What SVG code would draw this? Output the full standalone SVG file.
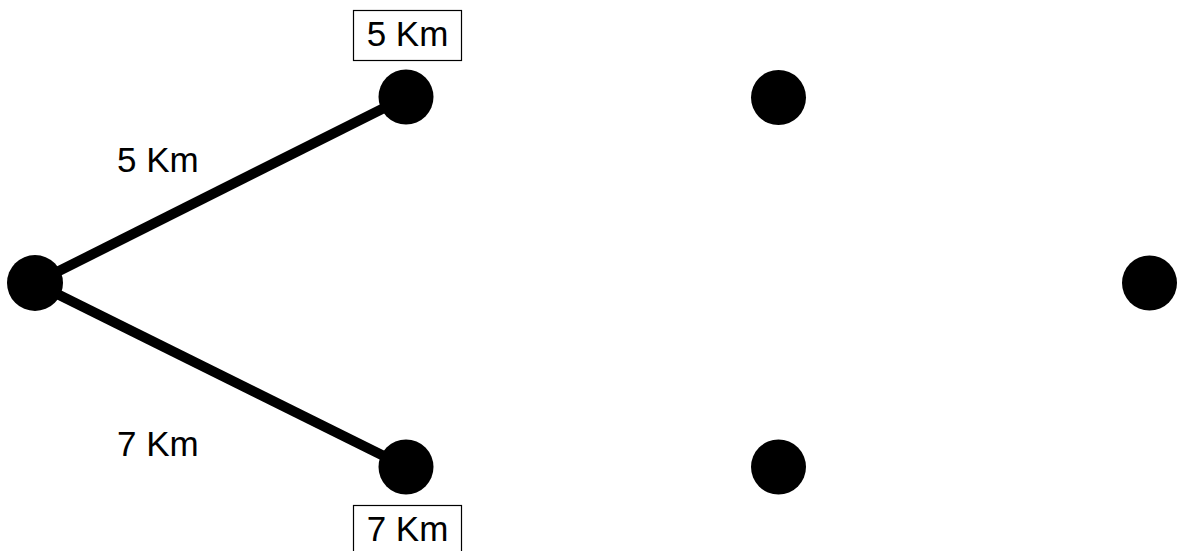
<svg xmlns="http://www.w3.org/2000/svg" width="1177" height="551" viewBox="0 0 1177 551">
  <style>
    .node { fill: #000; }
    .edge { stroke: #000; stroke-width: 10; fill: none; }
    .label { font-family: "Liberation Sans", Arial, sans-serif; font-size: 35px; fill: #000; }
    .tag { fill: #fff; stroke: #000; stroke-width: 1.2; }
  </style>
  <rect width="1177" height="551" fill="#fff"/>

  <!-- connectors -->
  <g id="edges">
    <line class="edge" x1="35" y1="283" x2="406" y2="97"/>
    <line class="edge" x1="35" y1="283" x2="406" y2="467"/>
    <text class="label" x="117" y="172">5 Km</text>
    <text class="label" x="117" y="456">7 Km</text>
  </g>

  <g id="node-start"><circle class="node" cx="35" cy="283" r="28"/></g>
  <g id="node-a">
    <circle class="node" cx="406" cy="97" r="27.5"/>
    <rect class="tag" x="353.5" y="10.5" width="108" height="50"/>
    <text class="label" x="407.5" y="46" text-anchor="middle">5 Km</text>
  </g>
  <g id="node-b">
    <circle class="node" cx="406" cy="467" r="27.5"/>
    <rect class="tag" x="353.5" y="505.5" width="108" height="50"/>
    <text class="label" x="407.5" y="541" text-anchor="middle">7 Km</text>
  </g>
  <g id="node-c"><circle class="node" cx="778.5" cy="97.5" r="27.5"/></g>
  <g id="node-d"><circle class="node" cx="778.5" cy="467" r="27.5"/></g>
  <g id="node-end"><circle class="node" cx="1149.5" cy="283" r="27.5"/></g>
</svg>
